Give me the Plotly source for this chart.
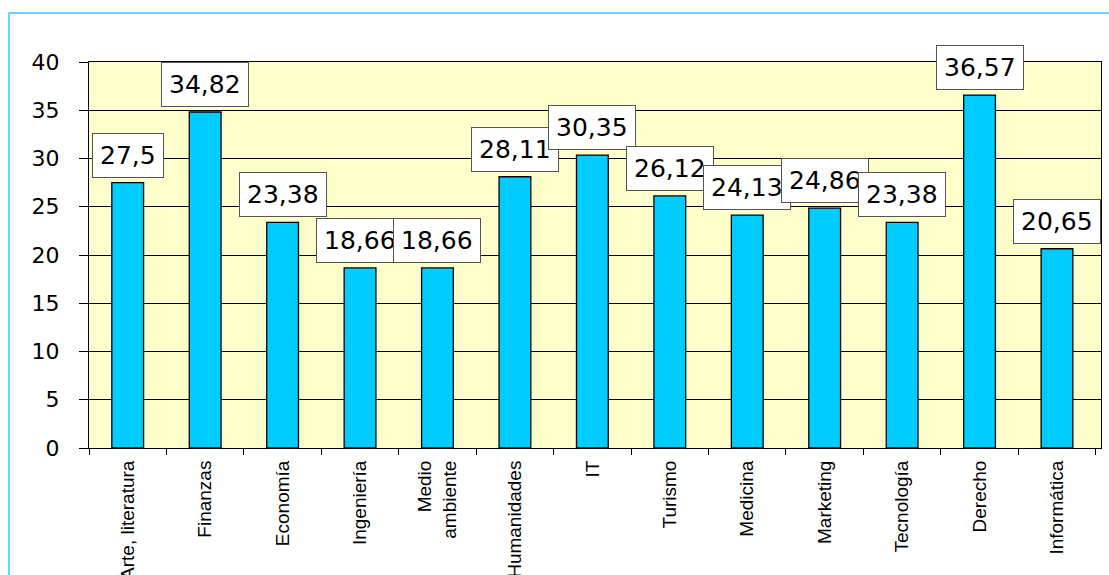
import plotly.graph_objects as go

categories = ["Arte, literatura", "Finanzas", "Economía", "Ingeniería", "Medio<br>ambiente",
              "Humanidades", "IT", "Turismo", "Medicina", "Marketing", "Tecnología",
              "Derecho", "Informática"]
values = [27.5, 34.82, 23.38, 18.66, 18.66, 28.11, 30.35, 26.12, 24.13, 24.86, 23.38, 36.57, 20.65]
y_ticks = [0, 5, 10, 15, 20, 25, 30, 35, 40]

W, H = 1109, 575
L, R, T, B = 89, 8, 62, 127
pw, ph = W - L - R, H - T - B

fig = go.Figure()
fig.add_trace(go.Bar(
    x=categories, y=values, width=0.41,
    marker=dict(color="#00CCFF", line=dict(color="#000000", width=1.3)),
    hoverinfo="x+y",
))

for c, v in zip(categories, values):
    fig.add_annotation(
        x=c, y=v, xref="x", yref="y", yanchor="bottom", yshift=5,
        text=f"{v:g}".replace(".", ","), showarrow=False,
        font=dict(family="DejaVu Sans", size=25, color="#000000"),
        bgcolor="#FFFFFF", bordercolor="#555555", borderwidth=1, borderpad=7,
    )

# outer cyan frame
fig.add_shape(type="rect", xref="paper", yref="paper",
              x0=(9 - L) / pw, x1=(W + 10 - L) / pw,
              y0=(H - B - (H + 10)) / ph, y1=(H - B - 13) / ph,
              line=dict(color="#33CCEE", width=1.5), fillcolor="rgba(0,0,0,0)", layer="below")

fig.update_layout(
    width=W, height=H,
    margin=dict(l=L, r=R, t=T, b=B, pad=0),
    paper_bgcolor="#FFFFFF", plot_bgcolor="#FFFFCC",
    showlegend=False,
    xaxis=dict(
        type="category", automargin=False,
        tickangle=-90, ticks="outside", tickson="boundaries", ticklen=6,
        tickcolor="#000000", tickwidth=1, ticklabelstandoff=4,
        tickfont=dict(family="Liberation Sans, Arial", size=19, color="#000000"),
        showline=True, linecolor="#000000", linewidth=1, mirror=True,
        showgrid=False,
    ),
    yaxis=dict(
        range=[0, 40], tickvals=y_ticks, automargin=False,
        ticks="outside", ticklen=9, tickcolor="#000000", tickwidth=1,
        ticklabelstandoff=15,
        tickfont=dict(family="DejaVu Sans", size=22, color="#000000"),
        showgrid=True, gridcolor="#000000", gridwidth=1,
        showline=True, linecolor="#000000", linewidth=1, mirror=True,
        zeroline=False,
    ),
)

fig.write_html("out.html")
